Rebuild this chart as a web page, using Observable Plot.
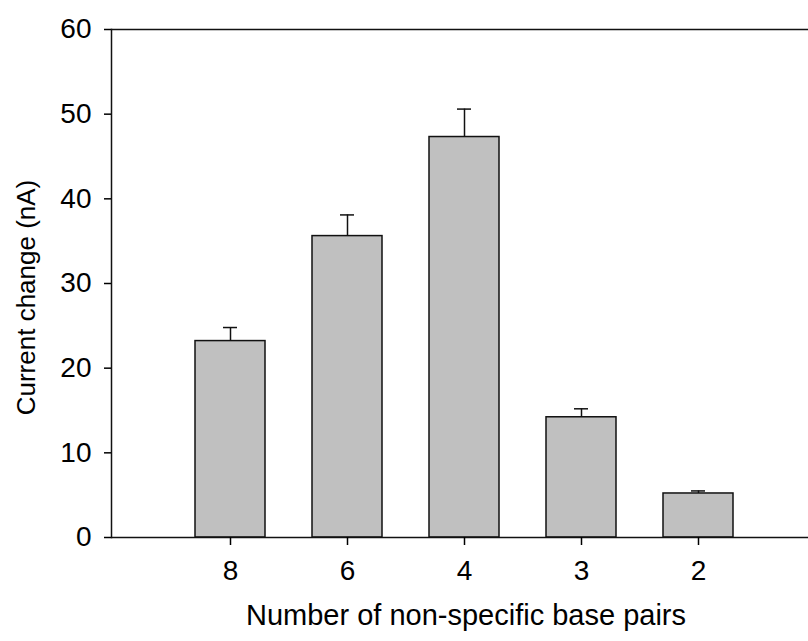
<!DOCTYPE html>
<html>
<head>
<meta charset="utf-8">
<script src="https://cdn.jsdelivr.net/npm/d3@7"></script>
<script src="https://cdn.jsdelivr.net/npm/@observablehq/plot@0.6"></script>
<style>
  html, body { margin: 0; padding: 0; background: #fff; overflow: hidden; }
</style>
</head>
<body>
<div id="chart"></div>
<script>
const categories = ["8", "6", "4", "3", "2"];
const values = [23.2, 35.6, 47.3, 14.2, 5.2];
const errors = [1.6, 2.5, 3.3, 1.0, 0.3];
const yTicks = [0, 10, 20, 30, 40, 50, 60];
const xTitle = "Number of non-specific base pairs";
const yTitle = "Current change (nA)";

const data = categories.map((c, i) => ({cat: c, value: values[i], top: values[i] + errors[i]}));

const font = "'Liberation Sans', Arial, sans-serif";

const chart = Plot.plot({
  width: 808,
  height: 641,
  marginLeft: 111,
  marginRight: 0,
  marginTop: 29,
  marginBottom: 104,
  style: {fontFamily: font, fontSize: "28px", color: "black", background: "white", overflow: "visible"},
  x: {domain: categories, range: [111, 817.5], paddingInner: 0.4, paddingOuter: 0.7},
  y: {domain: [0, 60]},
  marks: [
    Plot.barY(data, {x: "cat", y: "value", fill: "#c0c0c0", stroke: "#111", strokeWidth: 1.5}),
    Plot.ruleX(data, {x: "cat", y1: "value", y2: "top", stroke: "#111", strokeWidth: 1.5}),
    Plot.tickY(data, {x: "cat", y: "top", stroke: "#111", strokeWidth: 1.5, insetLeft: 28, insetRight: 28}),
    Plot.ruleY([0, 60], {stroke: "#111", strokeWidth: 1.5}),
    Plot.frame({anchor: "left", stroke: "#111", strokeWidth: 1.5}),
    Plot.axisY({ticks: yTicks, tickSize: 7, tickPadding: 13, fontSize: 28, label: null, strokeWidth: 1.5}),
    Plot.axisX({tickSize: 8, tickPadding: 15, fontSize: 28, label: null, strokeWidth: 1.5}),
    Plot.text([xTitle], {frameAnchor: "bottom", dy: 87, dx: 6, fontSize: 29, fill: "black", textAnchor: "middle"}),
    Plot.text([yTitle], {frameAnchor: "left", dx: -85, dy: 14, rotate: -90, fontSize: 26, fill: "black", textAnchor: "middle"})
  ]
});
document.getElementById("chart").appendChild(chart);
</script>
</body>
</html>
